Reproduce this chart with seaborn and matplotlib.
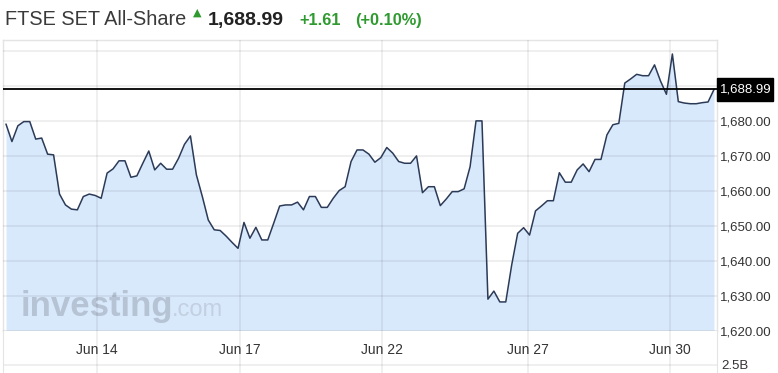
import numpy as np
import pandas as pd
import matplotlib
matplotlib.use("Agg")
import matplotlib.pyplot as plt
import seaborn as sns
from matplotlib.transforms import blended_transform_factory
from matplotlib.patches import Rectangle

# ---------------- data ----------------
prices = [1679.1, 1674.1, 1678.6, 1679.8, 1679.8, 1674.8, 1675.1, 1670.5, 1670.3, 1659.1,
          1656.0, 1654.8, 1654.6, 1658.4, 1659.1, 1658.7, 1657.9, 1665.1, 1666.3, 1668.6,
          1668.6, 1663.9, 1664.3, 1667.9, 1671.4, 1666.0, 1667.9, 1666.2, 1666.2, 1669.3,
          1673.3, 1675.7, 1664.6, 1658.4, 1651.7, 1648.9, 1648.7, 1647.1, 1645.3, 1643.6,
          1651.0, 1646.5, 1649.6, 1646.0, 1646.0, 1650.8, 1655.7, 1656.0, 1656.0, 1656.8,
          1654.6, 1658.4, 1658.4, 1655.3, 1655.3, 1657.9, 1660.1, 1661.2, 1668.4, 1671.7,
          1671.7, 1670.5, 1668.2, 1669.5, 1672.4, 1670.8, 1668.4, 1667.9, 1667.9, 1670.0,
          1659.5, 1661.2, 1661.2, 1655.8, 1657.7, 1659.8, 1659.8, 1660.6, 1666.9, 1680.0,
          1680.0, 1629.1, 1631.4, 1628.3, 1628.3, 1638.9, 1647.9, 1649.5, 1647.4, 1654.3,
          1655.7, 1657.2, 1657.2, 1665.2, 1662.5, 1662.5, 1666.0, 1667.7, 1665.5, 1669.0,
          1669.0, 1676.0, 1678.9, 1679.3, 1690.8, 1692.0, 1693.3, 1692.9, 1692.9, 1696.0,
          1691.4, 1687.6, 1699.1, 1685.5, 1685.1, 1684.9, 1684.9, 1685.2, 1685.4, 1688.99]
x_tick_pos = [15.3, 39.3, 63.2, 87.8, 111.6]
x_tick_labels = ["Jun 14", "Jun 17", "Jun 22", "Jun 27", "Jun 30"]
y_ticks = [1620, 1630, 1640, 1650, 1660, 1670, 1680, 1690, 1700]
y_labelled = [1620, 1630, 1640, 1650, 1660, 1670, 1680]
title = "FTSE SET All-Share"
last_price = "1,688.99"
change = "+1.61"
change_pct = "(+0.10%)"
volume_label = "2.5B"

# ---------------- style ----------------
sns.set_style("white")
plt.rcParams['font.family'] = ['Liberation Sans', 'DejaVu Sans']

W, H = 778, 373
fig = plt.figure(figsize=(W / 100, H / 100), dpi=100)
fig.patch.set_facecolor("white")

ax = fig.add_axes([3 / W, 42 / H, 714 / W, 291 / H])
df = pd.DataFrame({"idx": np.arange(len(prices)), "price": prices})

ax.fill_between(df["idx"], df["price"], 1620, color="#d9e9fc", lw=0, zorder=1)
sns.lineplot(data=df, x="idx", y="price", ax=ax, color="#2b3a57", lw=1.1, zorder=3)

ax.set_xlim(-0.5, 119.5)
ax.set_ylim(1620, 1703.1)

# grid
ax.set_axisbelow(False)
ax.set_xticks(x_tick_pos)
ax.set_xticklabels([""] * len(x_tick_pos))
ax.set_yticks(y_ticks)
ax.set_yticklabels([f"{v:,.2f}" if v in y_labelled else "" for v in y_ticks])
ax.grid(True, color="black", alpha=0.075, lw=1.2)
ax.yaxis.tick_right()
ax.tick_params(axis="y", length=0, pad=2.2, labelsize=9.5, labelcolor="#333333")
ax.tick_params(axis="x", length=0)
ax.set_xlabel("")
ax.set_ylabel("")
for s in ax.spines.values():
    s.set_color("#e4e4e4")
    s.set_linewidth(1.0)

# watermark
ax.text(0.024, 0.05, "investing", transform=ax.transAxes, fontsize=25, fontweight="bold",
        color="#b6c3d5", va="baseline", ha="left", zorder=1.5)
ax.text(0.237, 0.05, ".com", transform=ax.transAxes, fontsize=17,
        color="#c3d0e1", va="baseline", ha="left", zorder=1.5)

# last price line and box
last = prices[-1]
ax.axhline(last, color="black", lw=1.3, zorder=4)
trans = blended_transform_factory(ax.transAxes, ax.transData)
ax.add_patch(Rectangle((1.0, last - 3.2), 56 / 714, 6.4, transform=trans,
                       color="black", clip_on=False, zorder=5))
ax.text(1.0 + 3 / 714, last, last_price, transform=trans, color="white",
        fontsize=9.5, va="center", ha="left", zorder=6, clip_on=False)

# bottom strip with date labels
ax2 = fig.add_axes([3 / W, 0, 714 / W, 42 / H])
ax2.set_xlim(ax.get_xlim())
ax2.set_ylim(0, 1)
ax2.set_xticks([])
ax2.set_yticks([])
for xp in x_tick_pos:
    ax2.axvline(xp, color="black", alpha=0.075, lw=1.2)
ax2.axhline((373 - 365) / 42, color="black", alpha=0.075, lw=1.2)
for s in ["top", "bottom"]:
    ax2.spines[s].set_visible(False)
for s in ["left", "right"]:
    ax2.spines[s].set_color("#e4e4e4")
for xp, lab in zip(x_tick_pos, x_tick_labels):
    ax2.text(xp, (373 - 350) / 42, lab, ha="center", va="center",
             fontsize=10, color="#333333")

fig.text(721 / W, (373 - 366) / H, volume_label, fontsize=9.5, color="#333333",
         va="center", ha="left")

# header
fig.text(5 / W, (373 - 25) / H, title, fontsize=14.3, color="#3a3a3a",
         va="baseline", ha="left")
fig.text(197 / W, (373 - 13) / H, "▲", fontsize=8, color="#2f9a2f",
         va="center", ha="center", family=["DejaVu Sans"])
fig.text(208 / W, (373 - 25) / H, last_price, fontsize=14, fontweight="bold",
         color="#222222", va="baseline", ha="left")
fig.text(299 / W, (373 - 25) / H, change, fontsize=11.8, fontweight="bold",
         color="#2f9a2f", va="baseline", ha="left")
fig.text(355 / W, (373 - 25) / H, change_pct, fontsize=11.8, fontweight="bold",
         color="#2f9a2f", va="baseline", ha="left")

fig.savefig("out.png", dpi=100)
